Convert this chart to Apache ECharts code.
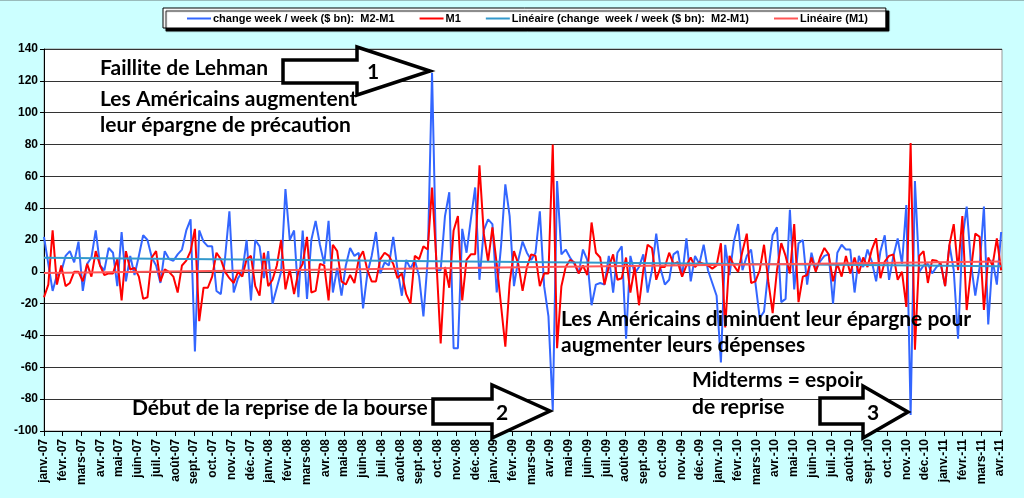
<!DOCTYPE html>
<html>
<head>
<meta charset="utf-8">
<script src="https://cdn.jsdelivr.net/npm/echarts/dist/echarts.min.js"></script>
<style>
  html, body { margin: 0; padding: 0; background: #ccffff; }
  #chart { width: 1024px; height: 498px; }
</style>
</head>
<body>
<div id="chart"></div>
<script>
// libellés des mois (un par graduation)
const monthLabels = [
  'janv.-07', 'févr.-07', 'mars-07', 'avr.-07', 'mai-07', 'juin-07', 'juil.-07', 'août-07', 'sept.-07', 'oct.-07', 'nov.-07', 'déc.-07',
  'janv.-08', 'févr.-08', 'mars-08', 'avr.-08', 'mai-08', 'juin-08', 'juil.-08', 'août-08', 'sept.-08', 'oct.-08', 'nov.-08', 'déc.-08',
  'janv.-09', 'févr.-09', 'mars-09', 'avr.-09', 'mai-09', 'juin-09', 'juil.-09', 'août-09', 'sept.-09', 'oct.-09', 'nov.-09', 'déc.-09',
  'janv.-10', 'févr.-10', 'mars-10', 'avr.-10', 'mai-10', 'juin-10', 'juil.-10', 'août-10', 'sept.-10', 'oct.-10', 'nov.-10', 'déc.-10',
  'janv.-11', 'févr.-11', 'mars-11', 'avr.-11'
];

// variation hebdo M2-M1 ($ bn), une valeur par semaine depuis janv.-07
const m2m1 = [
  22, 5, -12, -2, 0, 10, 13, 6, 19, -12, 5, 9, 26, 4, 1, 15, 12, -9, 25, -6,
  10, -2, 10, 23, 20, 9, 4, -7, 13, 8, 7, 11, 14, 26, 33, -50, 26, 19,
  16, 16, -12, -14, 9, 38, -13, -4, 0, 20, -18, 20, 16, -4, 13, -20, -10, 0, 52, 20,
  26, -16, 26, -17, 20, 32, 17, 5, 32, -13, 2.5, -15, 4, 15, 10, 12, -23,
  -1, 10, 25, -1, 6, 4, 22, 1, -15, 7.5, 2, 7.5, -3, -28, 7.5, 125, 1, 1, 35, 50,
  -48, -48, 27, 12, 33, 53, -5, 26, 33, 30, -13, 16, 55, 35, -9, 7.5, 19, 12, 7.5, 12,
  38, -9, -28, -87, 57,
  11, 14, 9, 5, -1, 14, 7.5, -21, -8, -7, -8, 10, -13, 12, 16, -42, 10, -1, 3, 11,
  -13, 1, 24, 2, -8, -5, 11, 13, -3, 21, -6, 10, 5, 17, 1, -7, -15, -57, 17, -2,
  19, 30, 1, 10, 14, -7, -29, -25, 1, 23, 28,
  -19, -17, 39, -11, 18, 20, -8, 12, 1, 6.5, 10, 11, -20, 12, 17, 14, 14, -13, 10, 3,
  14, 6.5, -6, 13, 23, -5, 10, 21, 5, 42, -90, 57, 0, 4, 5, -1, 3, 5, -9, 17,
  1, -42, 20, 41, 5, -15, 3, 41, -33, 7.5, -8, 25
];

// variation hebdo M1 ($ bn)
const m1 = [
  -16, -8, 26, -8, 4, -9, -7, 0, 0, -6, 5, -3, 13, 4, -2, -1, -1, 8, -18, 13,
  1.5, 2.5, -3, -17, -16, 9, 13, -6, 1.5, 0, -3, -13, 4, 7, 13, 27, -31, -10,
  -10, -3, 12, 8, 0, -4, -7, 0, -3, 8, 10, -9, -15, 12, -9, -5, 4, 20, -11, 1.5,
  -14, 0, 5, 22, -13, -12, 5, 4, -18, 17, 13, -6, -8, -2, -7, 8, 13,
  1, -6, -6, 8, 12, 10, 5, -4, -1, -14, -20, 10, 8, 16, 14, 53, 7.5, -45, 3, -10,
  26, 35, -18, 7.5, 11, 11, 67, 24, 6.5, 28, 5, -21, -47, -7, 13, 5, -12, 3, 11, 10,
  -9, -1, -1, 80,
  -48, -9, 3, 7.5, 6, -1, 4, -2, 31, 12, 9, -8, 3, 11, -5, -4, 9, -13, 3, -21,
  1, 17, 15, -5, 3, 3, 12, 5, 6, -3, 4, 9, 3, 6, 5, 4, 2, 4, 18, -35,
  10, 4, 0, 13, 24, -7, -6, 1, 17, -6, -26, 1,
  18, 10, -1, 30, -19, -3, -2, 9, 0, 9, 15, 11, -6, 5, -3, 10, -1, 9, -1, 9,
  3, 14, 21, -4, 6.5, 10, 11, -5, 0, -22, 81, -49, 10, 13, -7, 7.5, 7, 5, -9, 17,
  30, 1, 35, -24, 1, 24, 22, -24, 9, 4, 21, 1
];

const yTicks = { min: -100, max: 140, step: 20 };

const WEEK = 7 / 30.4375; // une semaine en mois
const FONT = '"Liberation Sans", Arial, sans-serif';
const NOTE_FONT = 'Lato, "Open Sans", sans-serif';

function toPoints(values) {
  return values.map((v, i) => [i * WEEK, v]);
}

// droite des moindres carrés (courbe de tendance "Linéaire")
function linearTrend(values) {
  const n = values.length;
  let sx = 0, sy = 0, sxy = 0, sxx = 0;
  values.forEach((v, i) => { sx += i; sy += v; sxy += i * v; sxx += i * i; });
  const b = (n * sxy - sx * sy) / (n * sxx - sx * sx);
  const a = (sy - b * sx) / n;
  return [[0, a], [(n - 1) * WEEK, a + b * (n - 1)]];
}

const chart = echarts.init(document.getElementById('chart'), null, { renderer: 'canvas' });

const NAMES = [
  'change week / week ($ bn):  M2-M1',
  'M1',
  'Linéaire (change  week / week ($ bn):  M2-M1)',
  'Linéaire (M1)'
];

function note(text, x, y, size) {
  return {
    type: 'text', left: x, top: y - size * 0.62, z: 100,
    style: { text, font: `bold ${size || 20}px ${NOTE_FONT}`, fill: '#000' }
  };
}

function arrow(pts, label, lx, ly) {
  return [
    {
      type: 'polygon', z: 90,
      shape: { points: pts },
      style: { fill: '#fff', stroke: '#000', lineWidth: 3.5, lineJoin: 'miter' }
    },
    {
      type: 'text', x: lx, y: ly, z: 100,
      style: { text: label, font: `bold 21px ${NOTE_FONT}`, fill: '#000', align: 'center', verticalAlign: 'middle' }
    }
  ];
}

chart.setOption({
  animation: false,
  backgroundColor: '#ccffff',
  color: ['#3366ff', '#ff0000', '#3399cc', '#ff5555'],
  legend: {
    data: NAMES,
    left: 163,
    top: 8,
    padding: [5, 18, 4, 24],
    itemGap: 25,
    itemWidth: 24,
    itemHeight: 2,
    icon: 'rect',
    backgroundColor: '#fff',
    borderColor: '#000',
    borderWidth: 1,
    borderRadius: 0,
    shadowColor: '#000',
    shadowOffsetX: 3,
    shadowOffsetY: 3,
    shadowBlur: 1,
    textStyle: { fontFamily: FONT, fontWeight: 'bold', fontSize: 11, color: '#000', padding: [0, 0, 0, -3] }
  },
  grid: {
    left: 44, right: 22, top: 49, bottom: 67,
    show: true, backgroundColor: '#fff', borderColor: '#999', borderWidth: 1
  },
  xAxis: {
    type: 'value',
    min: 0,
    max: 51.1,
    interval: 1,
    axisLine: { show: true, onZero: false, lineStyle: { color: '#000', width: 1 } },
    axisTick: { show: true, length: 5, lineStyle: { color: '#000' } },
    splitLine: { show: false },
    axisLabel: {
      rotate: 90,
      margin: 8,
      color: '#000',
      fontFamily: FONT,
      fontWeight: 'bold',
      fontSize: 12,
      showMaxLabel: false,
      formatter: (v) => {
        const k = Math.round(v);
        return Math.abs(v - k) < 1e-6 ? (monthLabels[k] || '') : '';
      }
    }
  },
  yAxis: {
    type: 'value',
    min: yTicks.min,
    max: yTicks.max,
    interval: yTicks.step,
    axisLine: { show: true, lineStyle: { color: '#000', width: 1 } },
    axisTick: { show: true, length: 4, lineStyle: { color: '#000' } },
    axisLabel: { color: '#000', fontFamily: FONT, fontWeight: 'bold', fontSize: 12, margin: 6 },
    splitLine: { lineStyle: { color: '#333', width: 1 } }
  },
  series: [
    {
      name: NAMES[0], type: 'line', data: toPoints(m2m1),
      showSymbol: false, symbol: 'none', lineStyle: { width: 2, color: '#3366ff' }, z: 2
    },
    {
      name: NAMES[1], type: 'line', data: toPoints(m1),
      showSymbol: false, symbol: 'none', lineStyle: { width: 2, color: '#ff0000' }, z: 3
    },
    {
      name: NAMES[2], type: 'line', data: linearTrend(m2m1),
      showSymbol: false, symbol: 'none', lineStyle: { width: 2, color: '#3399cc' }, z: 4
    },
    {
      name: NAMES[3], type: 'line', data: linearTrend(m1),
      showSymbol: false, symbol: 'none', lineStyle: { width: 2, color: '#ff5555' }, z: 5
    }
  ],
  graphic: [
    { type: 'rect', left: 0, top: 0, z: 1, shape: { width: 1024, height: 1 }, style: { fill: '#9bb' } },
    note('Faillite de Lehman', 100, 71, 21),
    note('Les Américains augmentent', 100, 102, 21),
    note('leur épargne de précaution', 100, 128, 21),
    note('Début de la reprise de la bourse', 132, 411, 21),
    note('Les Américains diminuent leur épargne pour', 561, 322, 21),
    note('augmenter leurs dépenses', 561, 348, 21),
    note('Midterms = espoir', 692, 383, 21),
    note('de reprise', 692, 410, 21),
    ...arrow([[283, 60], [357, 60], [357, 47], [430, 71], [357, 95], [357, 83], [283, 83]], '1', 373, 72),
    ...arrow([[433, 399], [492, 399], [492, 385], [550, 411], [492, 438], [492, 424], [433, 424]], '2', 502, 413),
    ...arrow([[820, 398], [863, 398], [863, 386], [908, 412], [863, 438], [863, 424], [820, 424]], '3', 873, 413)
  ]
});
</script>
</body>
</html>
